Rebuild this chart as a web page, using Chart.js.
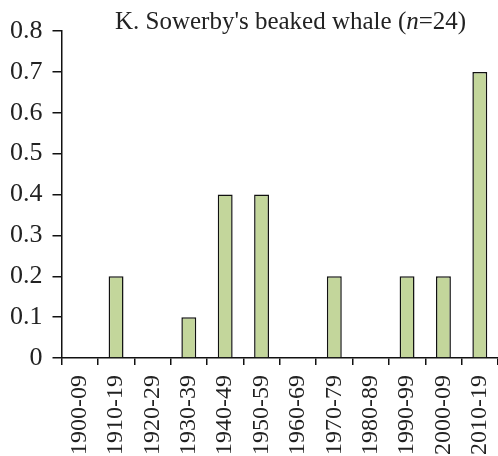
<!DOCTYPE html>
<html>
<head>
<meta charset="utf-8">
<script src="https://cdn.jsdelivr.net/npm/chart.js@4/dist/chart.umd.min.js"></script>
<style>
  html, body { margin: 0; padding: 0; background: #fff; overflow: hidden; }
  #wrap { width: 498px; height: 465px; }
</style>
</head>
<body>
<div id="wrap"><canvas id="chart"></canvas></div>
<script>
const decades = ['1900-09', '1910-19', '1920-29', '1930-39', '1940-49', '1950-59',
  '1960-69', '1970-79', '1980-89', '1990-99', '2000-09', '2010-19'];
const strandings = [0, 0.2, 0, 0.1, 0.4, 0.4, 0, 0.2, 0, 0.2, 0.2, 0.7];
const yTicks = [0, 0.1, 0.2, 0.3, 0.4, 0.5, 0.6, 0.7, 0.8];

const serif = '"Liberation Serif", "Times New Roman", serif';

// title with italic n, drawn inside the top of the plot
const titleParts = [
  { text: "K. Sowerby's beaked whale (", style: '' },
  { text: 'n', style: 'italic ' },
  { text: '=24)', style: '' }
];

const titlePlugin = {
  id: 'titleText',
  afterDraw(chart) {
    const ctx = chart.ctx;
    ctx.save();
    ctx.fillStyle = '#222';
    ctx.textBaseline = 'alphabetic';
    let x = 115;
    const y = 29;
    titleParts.forEach(p => {
      ctx.font = p.style + '25px ' + serif;
      ctx.fillText(p.text, x, y);
      x += ctx.measureText(p.text).width;
    });
    ctx.restore();
  }
};

new Chart(document.getElementById('chart'), {
  type: 'bar',
  data: {
    labels: decades,
    datasets: [{
      data: strandings,
      backgroundColor: '#c3d69b',
      borderColor: '#111',
      borderWidth: 1.5,
      categoryPercentage: 1,
      barPercentage: 0.41
    }]
  },
  options: {
    responsive: true,
    maintainAspectRatio: false,
    animation: false,
    layout: { padding: { top: 31, left: 0, right: 0, bottom: 0 } },
    plugins: { legend: { display: false }, tooltip: { enabled: false } },
    scales: {
      x: {
        offset: true,
        afterFit(scale) {
          // let the last bar reach the right edge, like the original
          scale.paddingLeft = 0;
          scale.paddingRight = 0;
        },
        grid: {
          offset: true,
          drawOnChartArea: false,
          drawTicks: true,
          tickLength: 7,
          color: '#111',
          lineWidth: 1.5
        },
        border: { display: true, color: '#111', width: 1.5 },
        ticks: {
          minRotation: 90,
          maxRotation: 90,
          autoSkip: false,
          padding: 10,
          color: '#222',
          font: { family: serif, size: 24 }
        }
      },
      y: {
        min: 0,
        max: 0.8,
        afterBuildTicks(axis) {
          axis.ticks = yTicks.map(v => ({ value: v }));
        },
        grid: {
          drawOnChartArea: false,
          drawTicks: true,
          tickLength: 9,
          color: '#111',
          lineWidth: 1.5
        },
        border: { display: true, color: '#111', width: 1.5 },
        ticks: {
          padding: 10,
          color: '#222',
          callback: v => String(Math.round(v * 10) / 10),
          font: { family: serif, size: 26 }
        }
      }
    }
  },
  plugins: [titlePlugin]
});
</script>
</body>
</html>
